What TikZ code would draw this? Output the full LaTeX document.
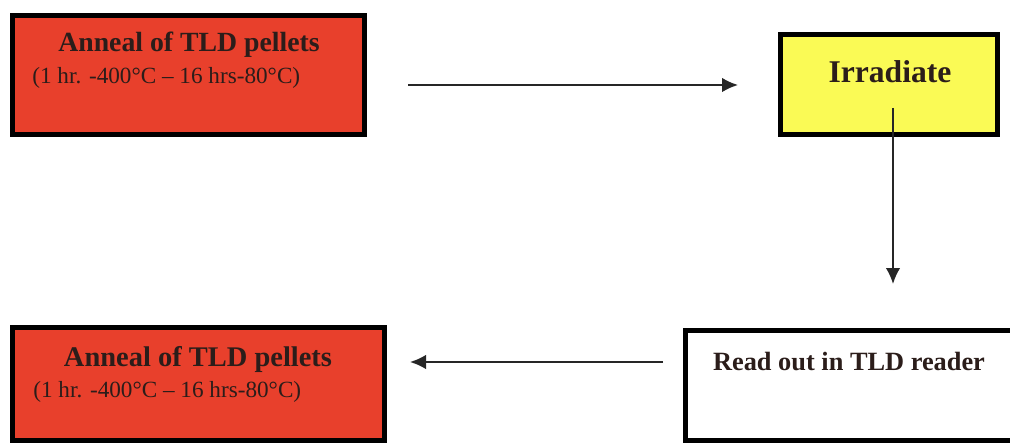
\documentclass[tikz,border=0pt]{standalone}
\usepackage{fontspec}
\setmainfont{Liberation Serif}
\usetikzlibrary{arrows.meta}
\definecolor{annealred}{HTML}{E8402C}
\definecolor{irryellow}{HTML}{FAFA55}
\definecolor{inkdark}{HTML}{2B1D1A}
\tikzset{
  stagebox/.style={draw, line width=2.8pt, inner sep=0pt},
  title/.style={text=inkdark, font=\fontsize{15}{18}\selectfont\bfseries, inner sep=0pt},
  cond/.style={text=inkdark, font=\fontsize{13.2}{16}\selectfont, inner sep=0pt, anchor=west},
  flow/.style={->, line width=1pt, draw=black!85}
}
\begin{document}
\begin{tikzpicture}[x=0.02cm, y=-0.02cm, >={Latex[length=3.2mm,width=2.9mm]}]
    \useasboundingbox (0,0) rectangle (1010,445);
    \clip (0,0) rectangle (1010,445);
    % boxes
    \node [stagebox, fill=annealred, minimum width=7.04cm, minimum height=2.38cm] (anneal1) at (188.5,75) {};
    \node [stagebox, fill=irryellow, minimum width=4.34cm, minimum height=2cm] (irradiate) at (889,84.5) {};
    \node [stagebox, fill=annealred, minimum width=7.44cm, minimum height=2.26cm] (anneal2) at (198.5,384) {};
    \node [stagebox, fill=white, minimum width=7.04cm, minimum height=2.2cm] (readout) at (861.5,385.5) {};
    % texts
    \node [title, font=\fontsize{15.8}{18}\selectfont\bfseries] (anneal1-t) at (189,45) {Anneal of TLD pellets};
    \node [cond] (anneal1-c) at (32,78) {(1 hr. -400°C – 16 hrs-80°C)};
    \node [title, font=\fontsize{18}{22}\selectfont\bfseries] (irradiate-t) at (890,72) {Irradiate};
    \node [title, font=\fontsize{16.2}{18}\selectfont\bfseries] (anneal2-t) at (198,360) {Anneal of TLD pellets};
    \node [cond] (anneal2-c) at (33,392) {(1 hr. -400°C – 16 hrs-80°C)};
    \node [title] (readout-t) at (849,362) {Read out in TLD reader};
    % arrows
    \coordinate (p1) at (408,85);
    \coordinate (p2) at (738,85);
    \coordinate (p3) at (893,108);
    \coordinate (p4) at (893,284);
    \coordinate (p5) at (663,362);
    \coordinate (p6) at (410,362);
    \draw [flow] (p1)--(p2);
    \draw [flow] (p3)--(p4);
    \draw [flow] (p5)--(p6);
\end{tikzpicture}
\end{document}
